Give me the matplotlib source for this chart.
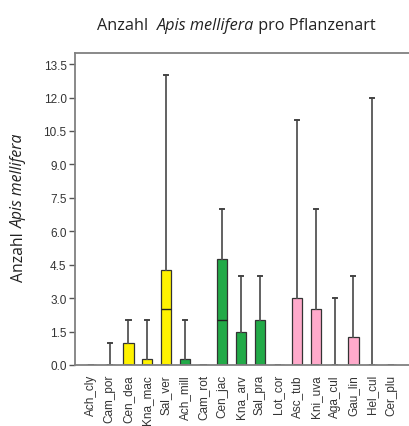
import matplotlib
matplotlib.use('Agg')
import matplotlib.pyplot as plt
import numpy as np

# Pflanzenarten und Kennwerte der Besuche von Apis mellifera
arten = ['Ach_cly', 'Cam_por', 'Cen_dea', 'Kna_mac', 'Sal_ver', 'Ach_mill',
         'Cam_rot', 'Cen_jac', 'Kna_arv', 'Sal_pra', 'Lot_cor', 'Asc_tub',
         'Kni_uva', 'Aga_cul', 'Gau_lin', 'Hel_cul', 'Cer_plu']
q1 = [0, 0, 0, 0, 0, 0, 0, 0, 0, 0, 0, 0, 0, 0, 0, 0, 0]
median = [0, 0, 0, 0, 2.5, 0, 0, 2.0, 0, 0, 0, 0, 0, 0, 0, 0, 0]
q3 = [0, 0, 1.0, 0.25, 4.25, 0.25, 0, 4.75, 1.5, 2.0, 0, 3.0, 2.5, 0, 1.25, 0, 0]
maximum = [0, 1, 2, 2, 13, 2, 0, 7, 4, 4, 0, 11, 7, 3, 4, 12, 0]
farben = ['#FFF200'] * 5 + ['#22AA48'] * 5 + ['#FFAACB'] * 7

plt.rcParams['font.family'] = ['Liberation Sans', 'DejaVu Sans']

fig = plt.figure(figsize=(4.09, 4.27), dpi=100)
W, H = 409, 427
links, oben, unten = 75, 54, 366
pro_kat = 18.75
x0, x1 = -0.85, 17.5
ax = fig.add_axes([links / W, (H - unten) / H,
                   (x1 - x0) * pro_kat / W, (unten - oben) / H])

stats = []
for i in range(len(arten)):
    stats.append({'med': median[i], 'q1': q1[i], 'q3': q3[i],
                  'whislo': q1[i], 'whishi': maximum[i], 'fliers': []})

bp = ax.bxp(stats, positions=np.arange(len(arten)), widths=0.55,
            patch_artist=True, showfliers=False, capwidths=0.22,
            boxprops=dict(edgecolor='#333333', linewidth=0.9),
            medianprops=dict(color='#222222', linewidth=1.0),
            whiskerprops=dict(color='#555555', linewidth=1.3),
            capprops=dict(color='#444444', linewidth=1.4))
for box, f in zip(bp['boxes'], farben):
    box.set_facecolor(f)

ax.set_xlim(x0, x1)
ax.set_ylim(0, 14.0)
ax.set_yticks(np.arange(0, 13.6, 1.5))
ax.set_yticklabels(['%.1f' % v for v in np.arange(0, 13.6, 1.5)])
ax.set_xticks(np.arange(len(arten)))
ax.set_xticklabels(arten, rotation=90)
ax.tick_params(axis='x', length=0, pad=6.5, labelsize=8.5, labelcolor='#333333')
ax.tick_params(axis='y', length=4.5, width=1.0, color='#555555', pad=1.5,
               labelsize=8.5, labelcolor='#333333')
for s in ['left', 'top', 'bottom']:
    ax.spines[s].set_color('#808080')
    ax.spines[s].set_linewidth(1.3)
ax.spines['right'].set_visible(False)

# Titel mit kursivem Artnamen
tf = ['Open Sans', 'DejaVu Sans']
gr = 11.7
t1 = fig.text(97 / W, (H - 30) / H, 'Anzahl  ', fontsize=gr, family=tf,
              color='#222222', va='baseline')
t2 = fig.text(0, 0, 'Apis mellifera', fontsize=gr, family=tf, style='italic',
              color='#222222', va='baseline')
t3 = fig.text(0, 0, ' pro Pflanzenart', fontsize=gr, family=tf,
              color='#222222', va='baseline')
fig.canvas.draw()
r = fig.canvas.get_renderer()
bb = t1.get_window_extent(r)
t2.set_position((bb.x1 / fig.bbox.width, t1.get_position()[1]))
bb = t2.get_window_extent(r)
t3.set_position((bb.x1 / fig.bbox.width, t1.get_position()[1]))

# y-Achsentitel, ebenfalls teilweise kursiv
y1 = fig.text(19 / W, (H - 282) / H, 'Anzahl ', fontsize=11.3, family=tf,
              color='#222222', rotation=90, ha='center', va='bottom')
y2 = fig.text(0, 0, 'Apis mellifera', fontsize=11.3, family=tf, style='italic',
              color='#222222', rotation=90, ha='center', va='bottom')
fig.canvas.draw()
bb = y1.get_window_extent(r)
y2.set_position((19 / W, bb.y1 / fig.bbox.height))

fig.savefig('out.png', dpi=100)
